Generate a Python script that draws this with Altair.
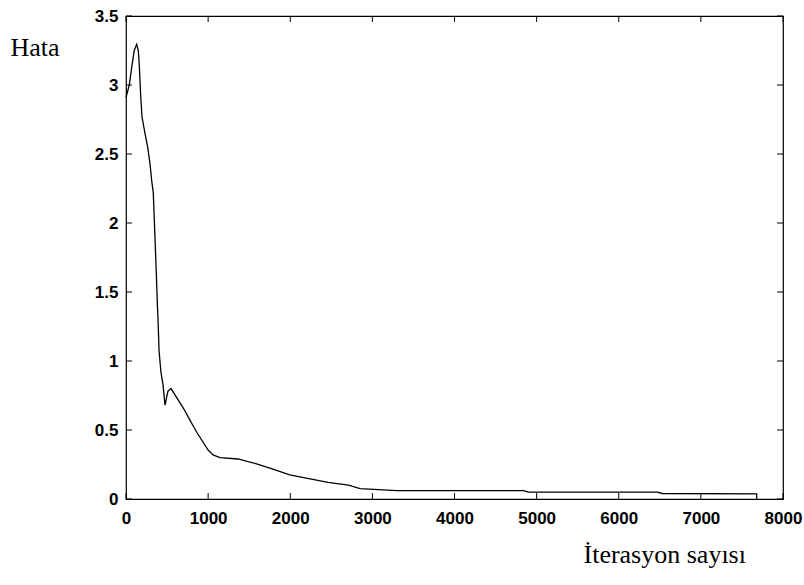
import altair as alt
import pandas as pd

# Data
iterations = [0, 40, 70, 100, 130, 150, 162, 180, 195, 231, 264, 292, 312, 332,
              350, 370, 380, 392, 402, 425, 450, 475, 510, 548, 633, 707, 780,
              865, 1000, 1060, 1145, 1365, 1485, 1590, 1770, 1994, 2210, 2460,
              2710, 2850, 3020, 3300, 3460, 4090, 4840, 4900, 6470, 6530, 7680, 7680]
errors = [2.91, 3.0, 3.13, 3.25, 3.295, 3.25, 3.14, 2.91, 2.77, 2.65, 2.55, 2.43,
          2.31, 2.22, 1.94, 1.62, 1.44, 1.27, 1.08, 0.92, 0.83, 0.68, 0.78, 0.80,
          0.72, 0.65, 0.57, 0.48, 0.355, 0.32, 0.30, 0.29, 0.27, 0.255, 0.22,
          0.174, 0.15, 0.12, 0.10, 0.075, 0.07, 0.06, 0.06, 0.06, 0.06, 0.05,
          0.05, 0.04, 0.037, 0.0]

x_ticks = [0, 1000, 2000, 3000, 4000, 5000, 6000, 7000, 8000]
y_ticks = [0, 0.5, 1, 1.5, 2, 2.5, 3, 3.5]

x_title = "İterasyon sayısı"
y_title = "Hata"

W, H = 657, 483
TL = 6

df = pd.DataFrame({"it": iterations, "err": errors, "i": list(range(len(iterations)))})
xt = pd.DataFrame({"v": x_ticks})
yt = pd.DataFrame({"v": y_ticks})

xscale = alt.Scale(domain=[0, 8000], nice=False, zero=False)
yscale = alt.Scale(domain=[0, 3.5], nice=False, zero=False)

label_font = "Liberation Sans"
title_font = "Liberation Serif"

line = alt.Chart(df).mark_line(color="black", strokeWidth=1.3).encode(
    x=alt.X("it:Q", scale=xscale,
            axis=alt.Axis(values=x_ticks, ticks=False, domain=False, grid=False,
                          format="d", labelFont=label_font, labelFontSize=17,
                          labelFontWeight="bold", labelColor="black", labelPadding=11,
                          labelFlush=False,
                          title=x_title, titleFont=title_font, titleFontSize=26,
                          titleFontWeight="normal", titleColor="black",
                          titleAlign="left", titleAnchor="start",
                          titleX=457, titleY=63, titleBaseline="alphabetic")),
    y=alt.Y("err:Q", scale=yscale,
            axis=alt.Axis(values=y_ticks, ticks=False, domain=False, grid=False,
                          format="~g",
                          labelFont=label_font, labelFontSize=17,
                          labelFontWeight="bold", labelColor="black", labelPadding=8,
                          labelFlush=False,
                          title=y_title, titleFont=title_font, titleFontSize=26,
                          titleFontWeight="normal", titleColor="black",
                          titleAngle=0, titleAlign="left", titleAnchor="start",
                          titleX=-116, titleY=31, titleBaseline="middle")),
    order="i:Q",
)

tick_style = dict(color="black", strokeWidth=1)

bottom_ticks = alt.Chart(xt).mark_rule(**tick_style).encode(
    x=alt.X("v:Q", scale=xscale, axis=None),
    y=alt.value(H), y2=alt.value(H - TL))
top_ticks = alt.Chart(xt).mark_rule(**tick_style).encode(
    x=alt.X("v:Q", scale=xscale, axis=None),
    y=alt.value(0), y2=alt.value(TL))
left_ticks = alt.Chart(yt).mark_rule(**tick_style).encode(
    y=alt.Y("v:Q", scale=yscale, axis=None),
    x=alt.value(0), x2=alt.value(TL))
right_ticks = alt.Chart(yt).mark_rule(**tick_style).encode(
    y=alt.Y("v:Q", scale=yscale, axis=None),
    x=alt.value(W), x2=alt.value(W - TL))

chart = alt.layer(line, bottom_ticks, top_ticks, left_ticks, right_ticks).resolve_axis(
    x="independent", y="independent"
).properties(
    width=W, height=H,
    autosize=alt.AutoSizeParams(type="none"),
    padding={"left": 126, "top": 16, "right": 21, "bottom": 85},
    background="white",
).configure_view(stroke="black", strokeWidth=1.2)

chart.save("out.html", embed_options={"renderer": "svg", "actions": False})
